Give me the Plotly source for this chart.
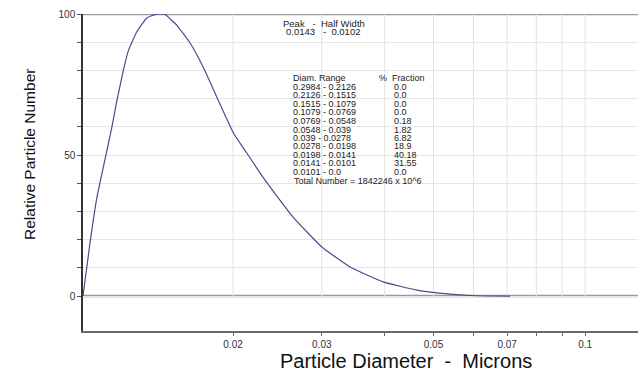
import plotly.graph_objects as go

# ---- data ----
diameter = [0.01007, 0.01040, 0.01072, 0.01105, 0.01148, 0.01175, 0.01211, 0.01239,
            0.01287, 0.01348, 0.01400, 0.01430, 0.01466, 0.01546, 0.01643, 0.01746,
            0.01856, 0.02003, 0.02129, 0.02263, 0.02368, 0.02631, 0.03000, 0.03415,
            0.03972, 0.04633, 0.05395, 0.06094, 0.07096]
rel_number = [0.0, 19.0, 34.5, 45.7, 59.5, 69.0, 80.0, 87.0,
              93.6, 98.6, 99.8, 100.0, 99.8, 96.0, 89.7, 81.0,
              70.6, 57.8, 50.7, 43.6, 38.7, 28.0, 17.4, 10.3,
              5.0, 2.1, 0.7, 0.1, 0.0]

x_tickvals = [0.02, 0.03, 0.04, 0.05, 0.06, 0.07, 0.08, 0.09, 0.1]
x_ticktext = ["0.02", "0.03", "", "0.05", "", "0.07", "", "", "0.1"]
y_tickvals = [0, 10, 20, 30, 40, 50, 60, 70, 80, 90, 100]
y_ticktext = ["0", "", "", "", "", "50", "", "", "", "", "100"]

peak_header = "Peak   -  Half Width"
peak_values = "0.0143   -  0.0102"

table_header_range = "Diam. Range"
table_header_frac = "%  Fraction"
diam_ranges = ["0.2984 - 0.2126", "0.2126 - 0.1515", "0.1515 - 0.1079", "0.1079 - 0.0769",
               "0.0769 - 0.0548", "0.0548 - 0.039", "0.039 - 0.0278", "0.0278 - 0.0198",
               "0.0198 - 0.0141", "0.0141 - 0.0101", "0.0101 - 0.0"]
fractions = ["0.0", "0.0", "0.0", "0.0", "0.18", "1.82", "6.82", "18.9", "40.18", "31.55", "0.0"]
total_text = "Total Number = 1842246 x 10^6"

# ---- layout geometry ----
W, H = 641, 376
L, R, T, B = 83, 3, 14, 45
PW, PH = W - L - R, H - T - B
FONT = "Liberation Sans, Arial, sans-serif"


def px_x(px):
    return (px - L) / PW


def px_y(py):
    return (H - B - py) / PH


def nb(s):
    return s.replace(" ", "\u00a0")


fig = go.Figure()
fig.add_trace(go.Scatter(x=diameter, y=rel_number, mode="lines",
                         line=dict(color="#4b4b8f", width=1.2, shape="spline", smoothing=0.4),
                         hoverinfo="skip", showlegend=False))

shapes = []
# vertical gridlines only between 0 and 100
for xv in x_tickvals:
    shapes.append(dict(type="line", xref="x", yref="y", x0=xv, x1=xv, y0=0, y1=100,
                       line=dict(color="#e2e2e2", width=1), layer="below"))
# heavy lines at 0 and 100
for yv in (0, 100):
    shapes.append(dict(type="line", xref="paper", yref="y", x0=0, x1=1, y0=yv, y1=yv,
                       line=dict(color="#9a9a9a", width=2.5), layer="between"))
# white boxes behind the text blocks
shapes.append(dict(type="rect", xref="paper", yref="paper",
                   x0=px_x(279), x1=px_x(374), y0=px_y(37), y1=px_y(17),
                   fillcolor="white", line=dict(width=0), layer="between"))
shapes.append(dict(type="rect", xref="paper", yref="paper",
                   x0=px_x(289), x1=px_x(443), y0=px_y(185), y1=px_y(72),
                   fillcolor="white", line=dict(width=0), layer="between"))

annotations = []
pfont = dict(family=FONT, size=9.5, color="#222")
tfont = dict(family=FONT, size=9, color="#222")
annotations.append(dict(text=nb(peak_header), xref="paper", yref="paper",
                        x=px_x(281), y=px_y(23.5), xanchor="left", yanchor="middle",
                        showarrow=False, font=pfont))
annotations.append(dict(text=nb(peak_values), xref="paper", yref="paper",
                        x=px_x(284), y=px_y(32), xanchor="left", yanchor="middle",
                        showarrow=False, font=pfont))

row_h = 8.5
y0 = 78.5
annotations.append(dict(text=nb(table_header_range), xref="paper", yref="paper",
                        x=px_x(291), y=px_y(y0), xanchor="left", yanchor="middle",
                        showarrow=False, font=tfont))
annotations.append(dict(text=nb(table_header_frac), xref="paper", yref="paper",
                        x=px_x(377), y=px_y(y0), xanchor="left", yanchor="middle",
                        showarrow=False, font=tfont))
for i, (rng, fr) in enumerate(zip(diam_ranges, fractions)):
    yy = y0 + row_h * (i + 1)
    annotations.append(dict(text=rng, xref="paper", yref="paper",
                            x=px_x(291), y=px_y(yy), xanchor="left", yanchor="middle",
                            showarrow=False, font=tfont))
    annotations.append(dict(text=fr, xref="paper", yref="paper",
                            x=px_x(392), y=px_y(yy), xanchor="left", yanchor="middle",
                            showarrow=False, font=tfont))
annotations.append(dict(text=nb(total_text), xref="paper", yref="paper",
                        x=px_x(292), y=px_y(y0 + row_h * (len(diam_ranges) + 1)),
                        xanchor="left", yanchor="middle", showarrow=False, font=tfont))

# axis titles
annotations.append(dict(text="Relative Particle Number", xref="paper", yref="paper",
                        x=px_x(29), y=px_y(155), xanchor="center", yanchor="middle",
                        textangle=-90, showarrow=False,
                        font=dict(family=FONT, size=15.5, color="#111")))
annotations.append(dict(text=nb("Particle Diameter  -  Microns"), xref="paper", yref="paper",
                        x=px_x(406), y=px_y(361), xanchor="center", yanchor="middle",
                        showarrow=False, font=dict(family=FONT, size=20, color="#111")))

fig.update_layout(
    width=W, height=H,
    margin=dict(l=L, r=R, t=T, b=B, pad=0),
    paper_bgcolor="white", plot_bgcolor="white",
    shapes=shapes, annotations=annotations,
    showlegend=False,
    xaxis=dict(type="log", range=[-1.997, -0.895],
               tickvals=x_tickvals, ticktext=x_ticktext,
               showgrid=False, zeroline=False,
               ticks="outside", ticklen=3, tickcolor="#666", tickwidth=1,
               showline=True, linecolor="#6a6a6a", linewidth=2,
               tickfont=dict(family=FONT, size=10, color="#333")),
    yaxis=dict(range=[-12.4, 100], tickvals=y_tickvals, ticktext=y_ticktext,
               showgrid=True, gridcolor="#e6e6e6", gridwidth=1,
               zeroline=False,
               ticks="outside", ticklen=4, tickcolor="#555", tickwidth=1,
               showline=True, linecolor="#333", linewidth=1.5,
               tickfont=dict(family=FONT, size=10, color="#333")),
)

fig.write_html("out.html", config={"displayModeBar": False},
               post_script="document.body.style.margin='0';document.body.style.overflow='hidden';")
